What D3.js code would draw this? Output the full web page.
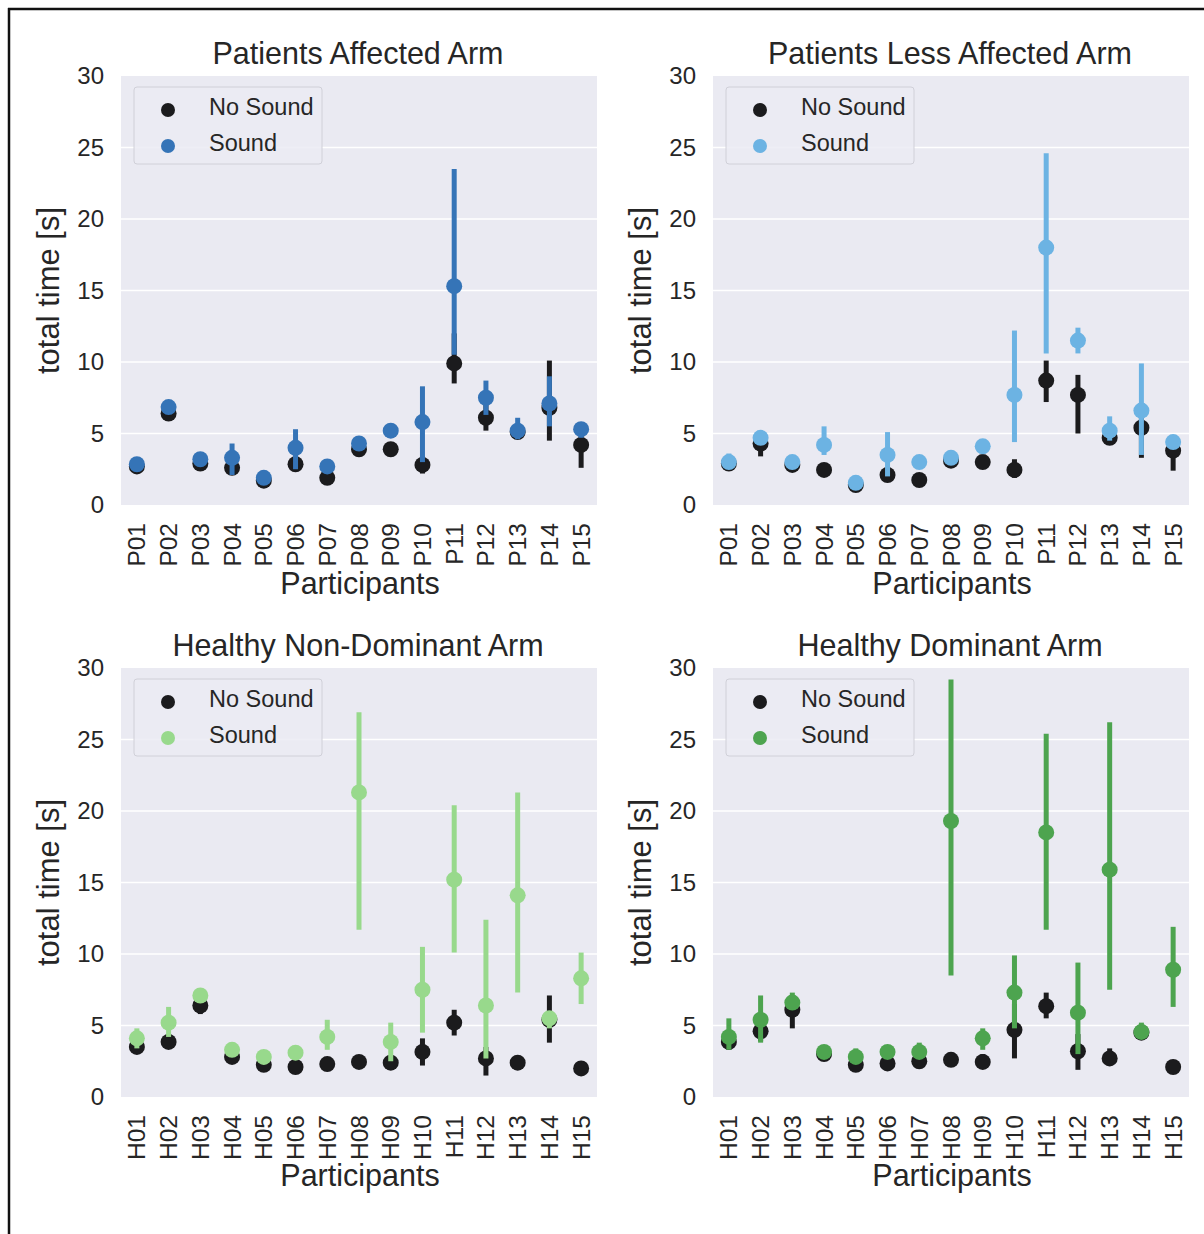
<!DOCTYPE html>
<html>
<head>
<meta charset="utf-8">
<script src="https://cdn.jsdelivr.net/npm/d3@7"></script>
<style>
  html, body { margin: 0; padding: 0; background: #ffffff; }
  svg { display: block; font-family: "Liberation Sans", Arial, sans-serif; }
</style>
</head>
<body>
<svg id="chart" width="1204" height="1234"></svg>
<script>
// ---------------- data ----------------
const patientIds = ["P01","P02","P03","P04","P05","P06","P07","P08","P09","P10","P11","P12","P13","P14","P15"];
const healthyIds = ["H01","H02","H03","H04","H05","H06","H07","H08","H09","H10","H11","H12","H13","H14","H15"];
const yTicks = [0, 5, 10, 15, 20, 25, 30];
const legendLabels = ["No Sound", "Sound"];
const panelTitles = ["Patients Affected Arm", "Patients Less Affected Arm", "Healthy Non-Dominant Arm", "Healthy Dominant Arm"];

// Patients Affected Arm
const paNoSoundMean = [2.7, 6.4, 2.9, 2.6, 1.7, 2.85, 1.9, 3.9, 3.9, 2.8, 9.9, 6.1, 5.1, 6.8, 4.2];
const paNoSoundLo   = [2.5, 6.1, 2.7, 2.3, 1.5, 2.6, 1.7, 3.6, 3.7, 2.2, 8.5, 5.2, 4.9, 4.5, 2.6];
const paNoSoundHi   = [2.9, 6.7, 3.1, 2.9, 1.9, 3.1, 2.1, 4.2, 4.1, 3.4, 12.0, 7.0, 5.4, 10.1, 5.0];
const paSoundMean   = [2.85, 6.85, 3.2, 3.3, 1.9, 4.0, 2.7, 4.3, 5.2, 5.8, 15.3, 7.5, 5.2, 7.1, 5.3];
const paSoundLo     = [2.6, 6.5, 2.9, 2.1, 1.7, 2.5, 2.4, 3.9, 4.9, 3.0, 10.5, 6.3, 4.6, 5.5, 4.7];
const paSoundHi     = [3.1, 7.2, 3.5, 4.3, 2.1, 5.3, 3.0, 4.7, 5.5, 8.3, 23.5, 8.7, 6.1, 9.0, 5.8];

// Patients Less Affected Arm
const plaNoSoundMean = [2.9, 4.3, 2.8, 2.45, 1.4, 2.1, 1.75, 3.1, 3.0, 2.45, 8.7, 7.7, 4.7, 5.4, 3.8];
const plaNoSoundLo   = [2.7, 3.4, 2.6, 2.2, 1.2, 1.8, 1.5, 2.9, 2.8, 1.9, 7.2, 5.0, 4.5, 3.3, 2.4];
const plaNoSoundHi   = [3.1, 5.0, 3.0, 2.7, 1.6, 2.4, 2.0, 3.3, 3.2, 3.2, 10.1, 9.1, 5.0, 7.0, 4.5];
const plaSoundMean   = [3.0, 4.7, 3.0, 4.2, 1.55, 3.5, 3.0, 3.3, 4.1, 7.7, 18.0, 11.5, 5.2, 6.6, 4.4];
const plaSoundLo     = [2.7, 4.2, 2.8, 3.5, 1.3, 2.0, 2.8, 3.0, 3.8, 4.4, 10.6, 10.6, 4.5, 3.5, 4.0];
const plaSoundHi     = [3.6, 5.0, 3.2, 5.5, 1.8, 5.1, 3.2, 3.6, 4.4, 12.2, 24.6, 12.4, 6.2, 9.9, 4.8];

// Healthy Non-Dominant Arm
const hndNoSoundMean = [3.5, 3.85, 6.4, 2.8, 2.25, 2.1, 2.3, 2.45, 2.4, 3.15, 5.2, 2.7, 2.4, 5.4, 2.0];
const hndNoSoundLo   = [3.2, 3.6, 5.8, 2.6, 2.0, 1.9, 2.1, 2.3, 2.2, 2.2, 4.3, 1.5, 2.2, 3.8, 1.8];
const hndNoSoundHi   = [3.8, 4.1, 7.0, 3.0, 2.5, 2.3, 2.5, 2.6, 2.6, 4.1, 6.1, 3.5, 2.6, 7.1, 2.2];
const hndSoundMean   = [4.1, 5.2, 7.1, 3.3, 2.8, 3.1, 4.2, 21.3, 3.85, 7.5, 15.2, 6.4, 14.1, 5.5, 8.3];
const hndSoundLo     = [3.4, 4.2, 6.7, 3.0, 2.3, 2.8, 3.3, 11.7, 2.5, 4.5, 10.1, 2.7, 7.3, 4.8, 6.5];
const hndSoundHi     = [4.8, 6.3, 7.4, 3.6, 3.2, 3.4, 5.4, 26.9, 5.2, 10.5, 20.4, 12.4, 21.3, 6.0, 10.1];

// Healthy Dominant Arm
const hdNoSoundMean = [3.85, 4.6, 6.1, 3.0, 2.25, 2.35, 2.5, 2.6, 2.45, 4.7, 6.35, 3.2, 2.7, 4.5, 2.1];
const hdNoSoundLo   = [3.3, 3.9, 4.8, 2.8, 2.0, 2.1, 2.3, 2.4, 2.0, 2.7, 5.5, 1.9, 2.3, 4.3, 1.9];
const hdNoSoundHi   = [4.4, 5.3, 7.0, 3.2, 2.5, 2.6, 2.7, 2.8, 3.0, 6.5, 7.3, 4.4, 3.4, 5.0, 2.3];
const hdSoundMean   = [4.2, 5.4, 6.6, 3.15, 2.8, 3.15, 3.15, 19.3, 4.1, 7.3, 18.5, 5.9, 15.9, 4.55, 8.9];
const hdSoundLo     = [3.3, 3.8, 6.2, 2.9, 2.3, 2.9, 2.7, 8.5, 3.3, 4.8, 11.7, 3.0, 7.5, 4.2, 6.3];
const hdSoundHi     = [5.5, 7.1, 7.3, 3.4, 3.4, 3.4, 3.8, 29.2, 4.8, 9.9, 25.4, 9.4, 26.2, 5.2, 11.9];

// ---------------- layout / style ----------------
const noSoundColor = "#1b1b1d";
const soundColors = ["#3574b7", "#6cb3e3", "#98d98c", "#4da44f"];
const bgColor = "#eaeaf2";

const panels = [
  { title: panelTitles[0], ids: patientIds, x0: 121, x1: 597, yTop: 76, yBot: 505,
    ns: [paNoSoundMean, paNoSoundLo, paNoSoundHi], s: [paSoundMean, paSoundLo, paSoundHi], color: soundColors[0] },
  { title: panelTitles[1], ids: patientIds, x0: 713, x1: 1189, yTop: 76, yBot: 505,
    ns: [plaNoSoundMean, plaNoSoundLo, plaNoSoundHi], s: [plaSoundMean, plaSoundLo, plaSoundHi], color: soundColors[1] },
  { title: panelTitles[2], ids: healthyIds, x0: 121, x1: 597, yTop: 668, yBot: 1097,
    ns: [hndNoSoundMean, hndNoSoundLo, hndNoSoundHi], s: [hndSoundMean, hndSoundLo, hndSoundHi], color: soundColors[2] },
  { title: panelTitles[3], ids: healthyIds, x0: 713, x1: 1189, yTop: 668, yBot: 1097,
    ns: [hdNoSoundMean, hdNoSoundLo, hdNoSoundHi], s: [hdSoundMean, hdSoundLo, hdSoundHi], color: soundColors[3] }
];

const svg = d3.select("#chart");
svg.append("rect").attr("width", 1204).attr("height", 1234).attr("fill", "#fff");

// outer frame (top and left edges visible)
svg.append("line").attr("x1", 8).attr("x2", 1204).attr("y1", 9).attr("y2", 9)
  .attr("stroke", "#111").attr("stroke-width", 2.5);
svg.append("line").attr("x1", 9).attr("x2", 9).attr("y1", 8).attr("y2", 1234)
  .attr("stroke", "#111").attr("stroke-width", 2.5);

panels.forEach(p => {
  const g = svg.append("g");
  const x = d3.scaleBand().domain(p.ids).range([p.x0, p.x1]).paddingInner(0).paddingOuter(0);
  const y = d3.scaleLinear().domain([0, 30]).range([p.yBot, p.yTop]);
  const cx = id => x(id) + x.bandwidth() / 2;

  g.append("rect").attr("x", p.x0).attr("y", p.yTop)
    .attr("width", p.x1 - p.x0).attr("height", p.yBot - p.yTop).attr("fill", bgColor);

  // gridlines
  g.selectAll(".grid").data(yTicks.filter(t => t > 0 && t < 30)).join("line")
    .attr("x1", p.x0).attr("x2", p.x1)
    .attr("y1", d => y(d)).attr("y2", d => y(d))
    .attr("stroke", "#ffffff").attr("stroke-width", 1.6);

  // y axis via d3 axis
  const yAxis = d3.axisLeft(y).tickValues(yTicks).tickSize(0).tickPadding(17).tickFormat(d3.format("d"));
  const ya = g.append("g").attr("transform", `translate(${p.x0},0)`).call(yAxis);
  ya.select(".domain").remove();
  ya.selectAll("text").attr("font-size", 24).attr("fill", "#262626")
    .attr("font-family", "'Liberation Sans', Arial, sans-serif");

  // x axis via d3 axis
  const xAxis = d3.axisBottom(x).tickSize(0).tickPadding(0);
  const xa = g.append("g").attr("transform", `translate(0,${p.yBot})`).call(xAxis);
  xa.select(".domain").remove();
  xa.selectAll("text")
    .attr("font-size", 24.5).attr("fill", "#262626")
    .attr("font-family", "'Liberation Sans', Arial, sans-serif")
    .attr("text-anchor", "end").attr("dy", null).attr("y", 0)
    .attr("dominant-baseline", "central")
    .attr("transform", "translate(0,18) rotate(-90)");

  // titles and axis labels
  const midX = (p.x0 + p.x1) / 2;
  g.append("text").attr("x", midX - 1).attr("y", p.yTop - 23)
    .attr("text-anchor", "middle").attr("dominant-baseline", "central")
    .attr("font-size", 30.5).attr("fill", "#262626").text(p.title);
  g.append("text").attr("x", midX + 1).attr("y", p.yBot + 78)
    .attr("text-anchor", "middle").attr("dominant-baseline", "central")
    .attr("font-size", 30.5).attr("fill", "#262626").text("Participants");
  g.append("text")
    .attr("transform", `translate(${p.x0 - 73},${(p.yTop + p.yBot) / 2}) rotate(-90)`)
    .attr("text-anchor", "middle").attr("dominant-baseline", "central")
    .attr("font-size", 31).attr("fill", "#262626").text("total time [s]");

  // series: no sound first, then sound on top
  const series = [
    { vals: p.ns, color: noSoundColor },
    { vals: p.s, color: p.color }
  ];
  series.forEach(s => {
    const [mean, lo, hi] = s.vals;
    const rows = p.ids.map((id, i) => ({ id, mean: mean[i], lo: lo[i], hi: hi[i] }));
    const sg = g.append("g");
    sg.selectAll("line").data(rows).join("line")
      .attr("x1", d => cx(d.id)).attr("x2", d => cx(d.id))
      .attr("y1", d => y(d.lo)).attr("y2", d => y(d.hi))
      .attr("stroke", s.color).attr("stroke-width", 5);
    sg.selectAll("circle").data(rows).join("circle")
      .attr("cx", d => cx(d.id)).attr("cy", d => y(d.mean))
      .attr("r", 8).attr("fill", s.color);
  });

  // legend
  const lg = g.append("g");
  lg.append("rect").attr("x", p.x0 + 13).attr("y", p.yTop + 11)
    .attr("width", 188).attr("height", 77).attr("rx", 3)
    .attr("fill", "#ebebf3").attr("fill-opacity", 0.85)
    .attr("stroke", "#d0d0d8").attr("stroke-width", 1);
  const legendColors = [noSoundColor, p.color];
  legendLabels.forEach((lab, i) => {
    const ly = p.yTop + 31 + i * 36;
    lg.append("circle").attr("cx", p.x0 + 47).attr("cy", ly + 3).attr("r", 7).attr("fill", legendColors[i]);
    lg.append("text").attr("x", p.x0 + 88).attr("y", ly).attr("dominant-baseline", "central")
      .attr("font-size", 23.5).attr("fill", "#262626").text(lab);
  });
});
</script>
</body>
</html>
